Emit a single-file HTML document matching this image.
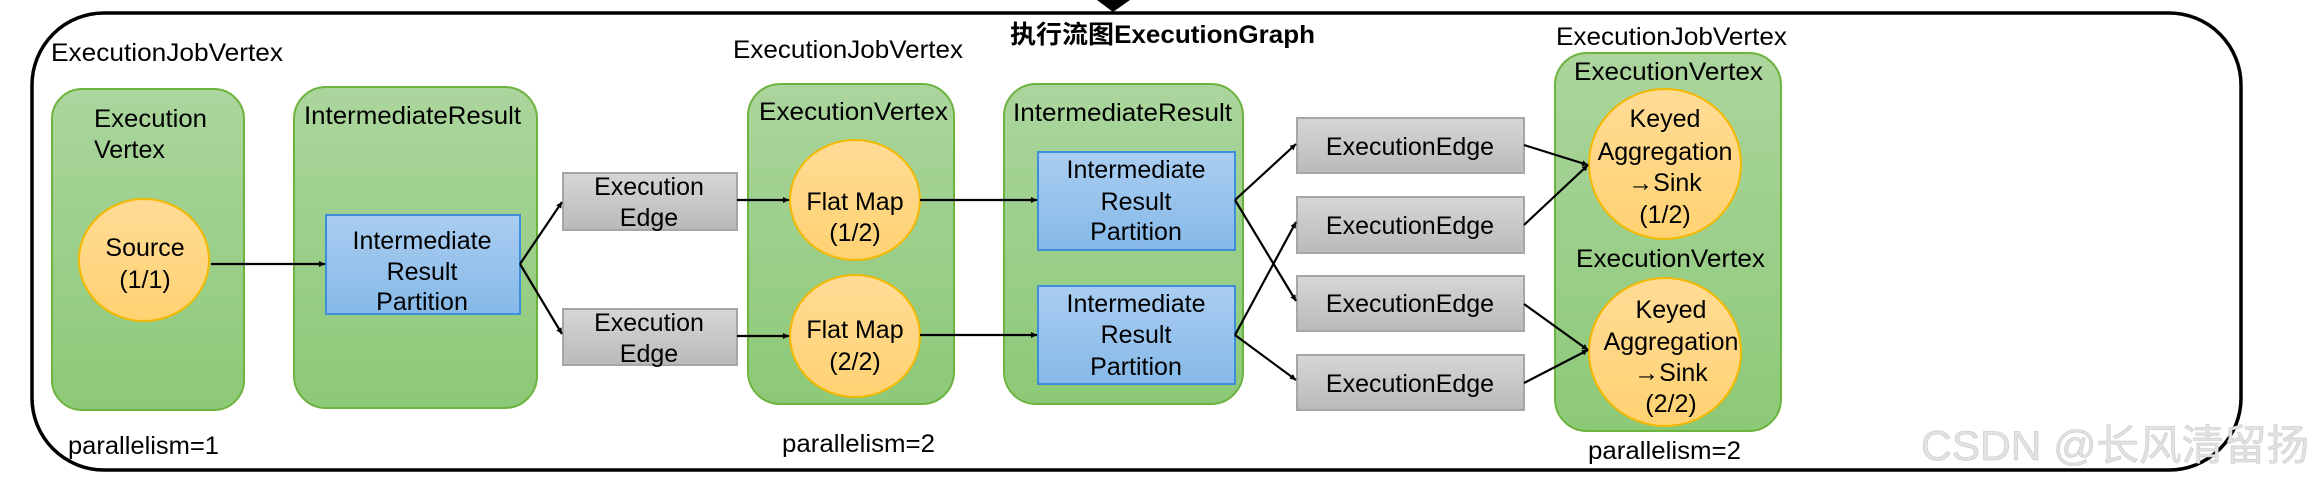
<!DOCTYPE html>
<html><head><meta charset="utf-8"><style>
html,body{margin:0;padding:0;background:#fff;}
svg{display:block;}
text{font-family:"Liberation Sans","Noto Sans CJK SC",sans-serif;fill:#000;}
</style></head><body>
<svg width="2318" height="482" viewBox="0 0 2318 482" xmlns="http://www.w3.org/2000/svg">
<defs>
<linearGradient id="g" x1="0" y1="0" x2="0" y2="1"><stop offset="0" stop-color="#abd59d"/><stop offset="1" stop-color="#8cc977"/></linearGradient>
<linearGradient id="o" x1="0" y1="0" x2="0" y2="1"><stop offset="0" stop-color="#ffdb95"/><stop offset="1" stop-color="#ffd272"/></linearGradient>
<linearGradient id="b" x1="0" y1="0" x2="0" y2="1"><stop offset="0" stop-color="#aacdf1"/><stop offset="1" stop-color="#86b9e8"/></linearGradient>
<linearGradient id="s" x1="0" y1="0" x2="0" y2="1"><stop offset="0" stop-color="#d6d6d6"/><stop offset="1" stop-color="#bababa"/></linearGradient>
<marker id="a" viewBox="0 0 10 10" refX="10" refY="5" markerWidth="6" markerHeight="6" orient="auto" markerUnits="userSpaceOnUse"><path d="M0,0 L10,5 L0,10 z" fill="#000"/></marker>
</defs>
<style>
.ar{stroke:#000;stroke-width:2.2;fill:none;}
</style>
<!-- outer -->
<rect x="32" y="13" width="2209" height="457" rx="72" ry="72" fill="#fff" stroke="#000" stroke-width="3.5"/>
<path d="M1097,0 L1130,0 L1113,12 z" fill="#000"/>
<text x="1010" y="43" font-size="25" font-weight="bold" textLength="305" lengthAdjust="spacingAndGlyphs">执行流图ExecutionGraph</text>

<text x="51" y="61" font-size="25" textLength="232" lengthAdjust="spacingAndGlyphs">ExecutionJobVertex</text>
<text x="733" y="58" font-size="25" textLength="230" lengthAdjust="spacingAndGlyphs">ExecutionJobVertex</text>
<text x="1556" y="45" font-size="25" textLength="231" lengthAdjust="spacingAndGlyphs">ExecutionJobVertex</text>

<!-- green boxes -->
<rect x="52" y="89" width="192" height="321" rx="30" fill="url(#g)" stroke="#6db33f" stroke-width="2"/>
<rect x="294" y="87" width="243" height="321" rx="32" fill="url(#g)" stroke="#6db33f" stroke-width="2"/>
<rect x="748" y="84" width="206" height="320" rx="32" fill="url(#g)" stroke="#6db33f" stroke-width="2"/>
<rect x="1004" y="84" width="239" height="320" rx="32" fill="url(#g)" stroke="#6db33f" stroke-width="2"/>
<rect x="1555" y="53" width="226" height="378" rx="32" fill="url(#g)" stroke="#6db33f" stroke-width="2"/>

<g font-size="25" dominant-baseline="central">
<text x="94" y="119" textLength="113" lengthAdjust="spacingAndGlyphs">Execution</text>
<text x="94" y="150">Vertex</text>
<text x="304" y="116" textLength="217" lengthAdjust="spacingAndGlyphs">IntermediateResult</text>
<text x="759" y="112" textLength="189" lengthAdjust="spacingAndGlyphs">ExecutionVertex</text>
<text x="1013" y="113" textLength="219" lengthAdjust="spacingAndGlyphs">IntermediateResult</text>
<text x="1574" y="72" textLength="189" lengthAdjust="spacingAndGlyphs">ExecutionVertex</text>
<text x="1576" y="259" textLength="189" lengthAdjust="spacingAndGlyphs">ExecutionVertex</text>
<text x="68" y="446" textLength="151" lengthAdjust="spacingAndGlyphs">parallelism=1</text>
<text x="782" y="444" textLength="153" lengthAdjust="spacingAndGlyphs">parallelism=2</text>
<text x="1588" y="451" textLength="153" lengthAdjust="spacingAndGlyphs">parallelism=2</text>
</g>

<!-- ellipses -->
<ellipse cx="144" cy="260" rx="65" ry="61" fill="url(#o)" stroke="#f5b800" stroke-width="2"/>
<ellipse cx="855" cy="200" rx="65" ry="60" fill="url(#o)" stroke="#f5b800" stroke-width="2"/>
<ellipse cx="855" cy="336" rx="65" ry="61" fill="url(#o)" stroke="#f5b800" stroke-width="2"/>
<ellipse cx="1665" cy="164" rx="76" ry="75" fill="url(#o)" stroke="#f5b800" stroke-width="2"/>
<ellipse cx="1665" cy="352" rx="76" ry="74" fill="url(#o)" stroke="#f5b800" stroke-width="2"/>

<!-- blue -->
<rect x="326" y="215" width="194" height="99" fill="url(#b)" stroke="#3d8fdc" stroke-width="2"/>
<rect x="1038" y="152" width="197" height="98" fill="url(#b)" stroke="#3d8fdc" stroke-width="2"/>
<rect x="1038" y="286" width="197" height="98" fill="url(#b)" stroke="#3d8fdc" stroke-width="2"/>

<!-- gray edges -->
<rect x="563" y="173" width="174" height="57" fill="url(#s)" stroke="#a6a6a6" stroke-width="2"/>
<rect x="563" y="309" width="174" height="56" fill="url(#s)" stroke="#a6a6a6" stroke-width="2"/>
<rect x="1297" y="118" width="227" height="55" fill="url(#s)" stroke="#a6a6a6" stroke-width="2"/>
<rect x="1297" y="197" width="227" height="56" fill="url(#s)" stroke="#a6a6a6" stroke-width="2"/>
<rect x="1297" y="276" width="227" height="55" fill="url(#s)" stroke="#a6a6a6" stroke-width="2"/>
<rect x="1297" y="355" width="227" height="55" fill="url(#s)" stroke="#a6a6a6" stroke-width="2"/>

<g font-size="25" text-anchor="middle" dominant-baseline="central">
<text x="145" y="248">Source</text><text x="145" y="280">(1/1)</text>
<text x="855" y="202">Flat Map</text><text x="855" y="233">(1/2)</text>
<text x="855" y="330">Flat Map</text><text x="855" y="362">(2/2)</text>
<text x="1665" y="119">Keyed</text><text x="1665" y="152">Aggregation</text><text x="1665" y="183">→Sink</text><text x="1665" y="215">(1/2)</text>
<text x="1671" y="310">Keyed</text><text x="1671" y="342">Aggregation</text><text x="1671" y="373">→Sink</text><text x="1671" y="404">(2/2)</text>
<text x="422" y="241">Intermediate</text><text x="422" y="272">Result</text><text x="422" y="302">Partition</text>
<text x="1136" y="170">Intermediate</text><text x="1136" y="202">Result</text><text x="1136" y="232">Partition</text>
<text x="1136" y="304">Intermediate</text><text x="1136" y="335">Result</text><text x="1136" y="367">Partition</text>
<text x="649" y="187">Execution</text><text x="649" y="218">Edge</text>
<text x="649" y="323">Execution</text><text x="649" y="354">Edge</text>
<text x="1410" y="147">ExecutionEdge</text>
<text x="1410" y="226">ExecutionEdge</text>
<text x="1410" y="304">ExecutionEdge</text>
<text x="1410" y="384">ExecutionEdge</text>
</g>

<!-- connectors -->
<g class="ar" marker-end="url(#a)">
<line x1="211" y1="264" x2="325" y2="264"/>
<line x1="520" y1="264" x2="562" y2="202"/>
<line x1="520" y1="264" x2="562" y2="334"/>
<line x1="737" y1="200" x2="789" y2="200"/>
<line x1="737" y1="336" x2="789" y2="336"/>
<line x1="920" y1="200" x2="1037" y2="200"/>
<line x1="920" y1="335" x2="1037" y2="335"/>
<line x1="1235" y1="200" x2="1296" y2="144"/>
<line x1="1235" y1="200" x2="1296" y2="301"/>
<line x1="1235" y1="335" x2="1296" y2="222"/>
<line x1="1235" y1="335" x2="1296" y2="380"/>
<line x1="1524" y1="145" x2="1588" y2="165"/>
<line x1="1524" y1="225" x2="1588" y2="165"/>
<line x1="1524" y1="304" x2="1588" y2="350"/>
<line x1="1524" y1="383" x2="1588" y2="350"/>
</g>

<text x="1921" y="460" font-size="42" fill="#dcdcdc" stroke="#c8c8c8" stroke-width="0.6" style="fill:#e2e2e2" textLength="388" lengthAdjust="spacingAndGlyphs">CSDN @长风清留扬</text>
</svg>
</body></html>
